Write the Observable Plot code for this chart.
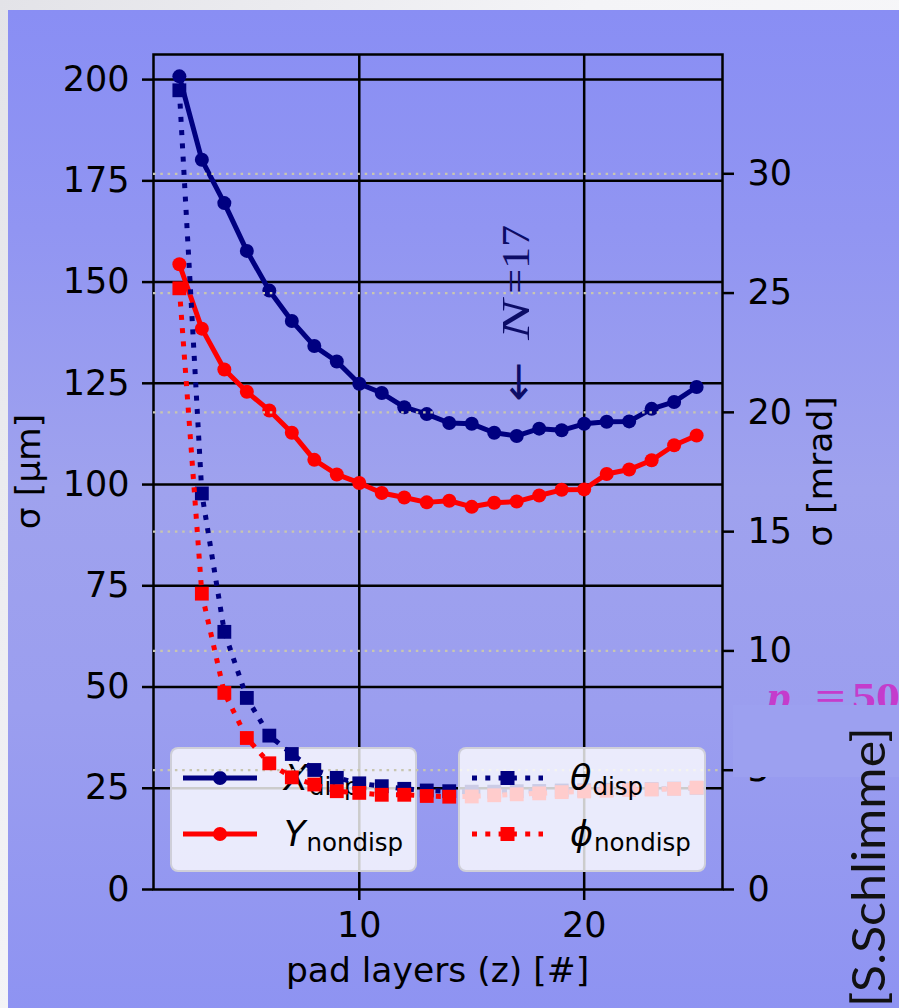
<!DOCTYPE html>
<html>
<head>
<meta charset="utf-8">
<script src="https://cdn.jsdelivr.net/npm/d3@7"></script>
<script src="https://cdn.jsdelivr.net/npm/@observablehq/plot@0.6"></script>
<style>
  html, body { margin: 0; padding: 0; }
  body { width: 899px; height: 1008px; overflow: hidden; position: relative;
         background: linear-gradient(120deg, #e3e3e8 0%, #f4f4f7 40%, #f9f9fb 100%); }
  #slide { position: absolute; left: 8px; top: 10px; width: 891px; height: 998px;
           background: linear-gradient(180deg, #898ef4 0%, #9195f2 22%, #9fa2ee 48%, #9b9eef 70%, #8e93f2 100%); }
  .layer { position: absolute; left: 0; top: 0; }
  .legend { position: absolute; box-sizing: border-box; background: rgba(255,255,255,0.8);
            border: 2px solid rgba(205,205,215,0.95); border-radius: 8px; }
</style>
</head>
<body>
<div id="slide"></div>
<div id="root"></div>
<script>
// ---------------- data ----------------
const layers = [2, 3, 4, 5, 6, 7, 8, 9, 10, 11, 12, 13, 14, 15, 16, 17, 18, 19, 20, 21, 22, 23, 24, 25];
// left axis, sigma [um]
const xDisp    = [200.8, 180.2, 169.5, 157.7, 147.9, 140.4, 134.2, 130.4, 124.9, 122.6, 119.1, 117.4, 115.2, 115.0, 112.8, 112.0, 113.8, 113.4, 115.0, 115.5, 115.6, 118.7, 120.4, 124.1];
const yNondisp = [154.4, 138.5, 128.4, 122.9, 118.3, 112.8, 106.1, 102.5, 100.4, 97.9, 96.8, 95.6, 96.0, 94.5, 95.5, 95.8, 97.3, 98.7, 98.8, 102.6, 103.7, 106.0, 109.7, 112.1];
// right axis, sigma [mrad]
const thetaDisp  = [33.5, 16.6, 10.8, 8.03, 6.45, 5.68, 5.01, 4.68, 4.45, 4.33, 4.22, 4.15, 4.12, 4.10, 4.10, 4.12, 4.13, 4.15, 4.16, 4.18, 4.20, 4.21, 4.23, 4.26];
const phiNondisp = [25.2, 12.4, 8.24, 6.35, 5.29, 4.70, 4.40, 4.12, 4.05, 3.97, 3.97, 3.92, 3.89, 3.90, 3.95, 3.99, 4.03, 4.08, 4.11, 4.14, 4.17, 4.19, 4.22, 4.27];

const leftTicks  = [0, 25, 50, 75, 100, 125, 150, 175, 200];
const rightTicks = [0, 5, 10, 15, 20, 25, 30];
const xTicks     = [10, 20];
const xDomain     = [0.85, 26.15];
const leftDomain  = [0, 206.2];
const rightDomain = [0, 35];

const xTitle = "pad layers (z) [#]";
const leftTitle = "σ [μm]";
const rightTitle = "σ [mrad]";
const legendLeftLabels  = [["X", "disp"], ["Y", "nondisp"]];
const legendRightLabels = [["θ", "disp"], ["ϕ", "nondisp"]];
const annotation = {layer: 17, value: 120.3, arrow: "←", sym: "N", rest: "=17"};
const momentumText = ["p", "=", "50"];
const creditText = "[S.Schlimme]";

const NAVY = "#000080", RED = "#ff0000";

// ---------------- layout ----------------
const W = 899, H = 1008;
const margins = {marginLeft: 153, marginRight: 177, marginTop: 54, marginBottom: 119};
const font = "'DejaVu Sans', 'Liberation Sans', sans-serif";
const FS = 35;
const baseStyle = {background: "transparent", fontFamily: font, fontSize: FS + "px", color: "black", overflow: "visible", maxWidth: "none"};

const rows = layers.map((z, i) => ({z, X: xDisp[i], Y: yNondisp[i], theta: thetaDisp[i], phi: phiNondisp[i]}));

const root = document.getElementById("root");

// ---------- first axes (position resolution) ----------
const chartA = Plot.plot({
  width: W, height: H, ...margins, style: baseStyle,
  x: {domain: xDomain},
  y: {domain: leftDomain},
  marks: [
    Plot.gridY(leftTicks.slice(1), {stroke: "black", strokeOpacity: 1, strokeWidth: 2.5}),
    Plot.gridX(xTicks, {stroke: "black", strokeOpacity: 1, strokeWidth: 2.5}),
    Plot.line(rows, {x: "z", y: "X", stroke: NAVY, strokeWidth: 5}),
    Plot.dot(rows, {x: "z", y: "X", fill: NAVY, r: 7}),
    Plot.line(rows, {x: "z", y: "Y", stroke: RED, strokeWidth: 5}),
    Plot.dot(rows, {x: "z", y: "Y", fill: RED, r: 7}),
    Plot.frame({stroke: "black", strokeWidth: 2.5}),
    Plot.axisY(leftTicks, {anchor: "left", tickSize: 11, tickPadding: 13, strokeWidth: 2.5, fontSize: FS, label: null}),
    Plot.axisX(xTicks, {anchor: "bottom", tickSize: 11, tickPadding: 12, strokeWidth: 2.5, fontSize: FS, label: null})
  ]
});
chartA.classList.add("layer");
root.appendChild(chartA);

// annotation N=17, anchored through the chart's own scales
{
  const ax = chartA.scale("x").apply(annotation.layer);
  const ay = chartA.scale("y").apply(annotation.value);
  const g = d3.select(chartA).append("g")
    .attr("transform", `translate(${ax + 13},${ay}) rotate(-90)`)
    .attr("fill", "#0c0c66")
    .style("font-size", "40px");
  g.append("text").attr("x", 0).attr("text-anchor", "start").attr("textLength", 40).attr("lengthAdjust", "spacingAndGlyphs")
    .style("font-family", "'DejaVu Sans', sans-serif").style("font-size", "42px").attr("dy", "0.06em").text(annotation.arrow);
  g.append("text").attr("x", 62).attr("text-anchor", "start").attr("font-style", "italic").attr("textLength", 40).attr("lengthAdjust", "spacingAndGlyphs")
    .style("font-family", "'Liberation Serif', 'DejaVu Serif', serif").text(annotation.sym);
  g.append("text").attr("x", 108).attr("text-anchor", "start").attr("textLength", 69).attr("lengthAdjust", "spacingAndGlyphs")
    .style("font-family", "'Liberation Serif', 'DejaVu Serif', serif").text(annotation.rest);
}

// ---------- legend helper ----------
function addLegend(box, labels, colors, dotted, symbol, lineX, labelX) {
  const div = document.createElement("div");
  div.className = "legend";
  Object.assign(div.style, {left: box.x + "px", top: box.y + "px", width: box.w + "px", height: box.h + "px"});
  const svg = d3.create("svg").attr("width", W).attr("height", H)
    .style("position", "absolute").style("left", -(box.x + 2) + "px").style("top", -(box.y + 2) + "px")
    .style("overflow", "visible");
  const rowY = [778, 834];
  labels.forEach((lab, i) => {
    const y = rowY[i];
    const line = svg.append("line").attr("x1", lineX[0]).attr("x2", lineX[1]).attr("y1", y).attr("y2", y)
      .attr("stroke", colors[i]).attr("stroke-width", 5).attr("stroke-linecap", "butt");
    if (dotted) line.attr("stroke-dasharray", "5,8.3");
    const cx = (lineX[0] + lineX[1]) / 2;
    if (symbol === "circle") svg.append("circle").attr("cx", cx).attr("cy", y).attr("r", 7).attr("fill", colors[i]);
    else svg.append("rect").attr("x", cx - 7).attr("y", y - 7).attr("width", 14).attr("height", 14).attr("fill", colors[i]);
    const t = svg.append("text").attr("x", labelX).attr("y", y + 11.5)
      .style("font-family", font).style("font-size", "35px").attr("fill", "black");
    t.append("tspan").attr("font-style", "italic").text(lab[0]);
    t.append("tspan").attr("font-size", "24.5px").attr("dy", 5).attr("dx", 1).text(lab[1]);
  });
  div.appendChild(svg.node());
  root.appendChild(div);
}

addLegend({x: 170, y: 747, w: 247, h: 125}, legendLeftLabels, [NAVY, RED], false, "circle", [183, 257], 284);

// ---------- twin axes (angular resolution) ----------
const chartB = Plot.plot({
  width: W, height: H, ...margins, style: baseStyle,
  x: {domain: xDomain, axis: null},
  y: {domain: rightDomain},
  marks: [
    Plot.gridY(rightTicks.slice(1), {stroke: "#c8c6b0", strokeOpacity: 1, strokeWidth: 2.2, strokeDasharray: "2.5,4.8"}),
    Plot.line(rows, {x: "z", y: "theta", stroke: NAVY, strokeWidth: 5, strokeDasharray: "5,8.3", strokeLinecap: "butt"}),
    Plot.dot(rows, {x: "z", y: "theta", symbol: "square", fill: NAVY, r: 7.8}),
    Plot.line(rows, {x: "z", y: "phi", stroke: RED, strokeWidth: 5, strokeDasharray: "5,8.3", strokeLinecap: "butt"}),
    Plot.dot(rows, {x: "z", y: "phi", symbol: "square", fill: RED, r: 7.8}),
    Plot.axisY(rightTicks, {anchor: "right", tickSize: 11, tickPadding: 14, strokeWidth: 2.5, fontSize: FS, label: null})
  ]
});
chartB.classList.add("layer");
root.appendChild(chartB);

addLegend({x: 458, y: 747, w: 248, h: 125}, legendRightLabels, [NAVY, RED], true, "square", [472, 543], 570);

// ---------- titles and slide decorations ----------
const deco = d3.create("svg").attr("width", W).attr("height", H).attr("class", "layer").style("overflow", "visible");
deco.append("text").attr("x", 437.5).attr("y", 982).attr("text-anchor", "middle")
  .style("font-family", font).style("font-size", "34.5px").text(xTitle);
deco.append("text").attr("transform", "translate(40,471.5) rotate(-90)").attr("text-anchor", "middle")
  .style("font-family", font).style("font-size", "34.5px").text(leftTitle);
deco.append("text").attr("transform", "translate(832,471.5) rotate(-90)").attr("text-anchor", "middle")
  .style("font-family", font).style("font-size", "34.5px").text(rightTitle);

// magenta p = 50 (partly covered by a pasted box)
const mg = deco.append("g").attr("fill", "#c43ccc")
  .style("font-family", "'Liberation Serif', 'DejaVu Serif', serif").style("font-size", "40px").style("font-weight", "bold");
mg.append("text").attr("x", 767).attr("y", 712).attr("font-style", "italic").style("font-size", "46px")
  .attr("textLength", 24).attr("lengthAdjust", "spacingAndGlyphs").text(momentumText[0]);
mg.append("text").attr("x", 815).attr("y", 710).attr("textLength", 31).attr("lengthAdjust", "spacingAndGlyphs").text(momentumText[1]);
mg.append("text").attr("x", 852).attr("y", 710).attr("textLength", 48).attr("lengthAdjust", "spacingAndGlyphs").text(momentumText[2]);
deco.append("rect").attr("x", 733).attr("y", 705).attr("width", 166).attr("height", 72).attr("fill", "#9ca0f0");

deco.append("text").attr("transform", "translate(885,1007) rotate(-90)").attr("text-anchor", "start")
  .attr("textLength", 280).attr("lengthAdjust", "spacingAndGlyphs")
  .style("font-family", "Lato, 'Open Sans', sans-serif").style("font-size", "47px").style("font-weight", "400")
  .attr("fill", "#111").text(creditText);

root.appendChild(deco.node());
</script>
</body>
</html>
